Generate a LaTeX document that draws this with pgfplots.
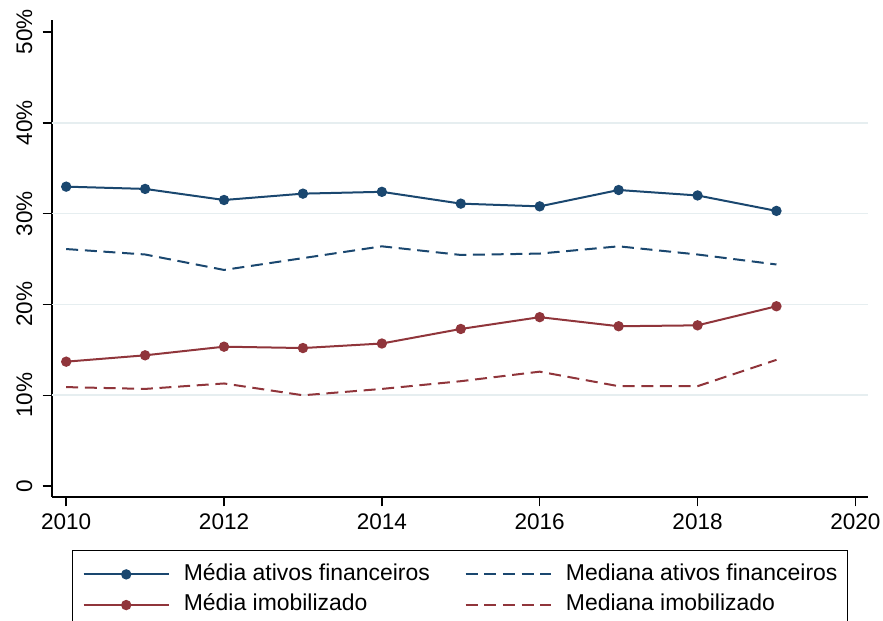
\documentclass[border=0pt]{standalone}
\usepackage{fontspec}
\setmainfont{Liberation Sans}
\usepackage{pgfplots}
\pgfplotsset{compat=1.18}
\definecolor{navy}{RGB}{26,71,111}
\definecolor{maroon}{RGB}{144,53,59}
\definecolor{gridc}{RGB}{230,238,240}
\begin{document}
\begin{tikzpicture}
\path[use as bounding box] (0pt,0pt) rectangle (662.25pt,465.75pt);
\begin{axis}[
  at={(39pt,93pt)}, anchor=south west,
  width=612pt, height=357.75pt, scale only axis,
  xmin=2009.82, xmax=2020.16, ymin=-1.2, ymax=51.32,
  axis x line*=bottom, axis y line*=left,
  axis line style={line width=1.1pt, -},
  tick align=outside, tick style={line width=1.1pt, black},
  major tick length=7pt,
  xtick={2010,2012,2014,2016,2018,2020},
  xticklabels={2010,2012,2014,2016,2018,2020},
  ytick={0,10,20,30,40,50},
  yticklabels={0,10\%,20\%,30\%,40\%,50\%},
  extra y ticks={10,20,30,40},
  extra y tick labels={},
  extra y tick style={grid=major, major tick length=0pt, grid style={gridc, line width=1.2pt}},
  /pgf/number format/assume math mode=true,
  tick label style={font=\fontsize{16.9}{19}\selectfont},
  yticklabel style={rotate=90, anchor=south, inner sep=7.5pt},
  xticklabel style={inner sep=5.5pt},
  legend columns=2,
  legend cell align=left,
  legend style={at={(0.5,-0.1111)}, anchor=north, draw=black, line width=1.1pt,
    font=\fontsize{17.2}{20}\selectfont,
    inner xsep=7.5pt, inner ysep=10pt,
    row sep=7.5pt,
    /tikz/every odd column/.append style={column sep=10.5pt},
    /tikz/every even column/.append style={column sep=26pt},
    nodes={inner xsep=0pt, inner ysep=0pt, text height=12pt, text depth=3.5pt}},
  legend image code/.code={\draw[mark repeat=2,mark phase=2,#1] plot coordinates {(0pt,0pt) (32pt,0pt) (64pt,0pt)};},
]
\addplot[navy, line width=1.5pt, mark=*, mark size=3.1pt] coordinates {
 (2010,32.97) (2011,32.72) (2012,31.5) (2013,32.2) (2014,32.4)
 (2015,31.1) (2016,30.8) (2017,32.6) (2018,32.0) (2019,30.3)};
\addlegendentry{Média ativos financeiros}
\addplot[navy, line width=1.5pt, dash pattern=on 9pt off 5pt] coordinates {
 (2010,26.1) (2011,25.5) (2012,23.8) (2013,25.1) (2014,26.4)
 (2015,25.45) (2016,25.6) (2017,26.4) (2018,25.5) (2019,24.4)};
\addlegendentry{Mediana ativos financeiros}
\addplot[maroon, line width=1.5pt, mark=*, mark size=3.1pt] coordinates {
 (2010,13.7) (2011,14.4) (2012,15.35) (2013,15.2) (2014,15.7)
 (2015,17.3) (2016,18.6) (2017,17.6) (2018,17.7) (2019,19.8)};
\addlegendentry{Média imobilizado}
\addplot[maroon, line width=1.5pt, dash pattern=on 9pt off 5pt] coordinates {
 (2010,10.9) (2011,10.7) (2012,11.3) (2013,10.0) (2014,10.7)
 (2015,11.55) (2016,12.6) (2017,11.0) (2018,11.0) (2019,13.9)};
\addlegendentry{Mediana imobilizado}
\end{axis}
\end{tikzpicture}
\end{document}
